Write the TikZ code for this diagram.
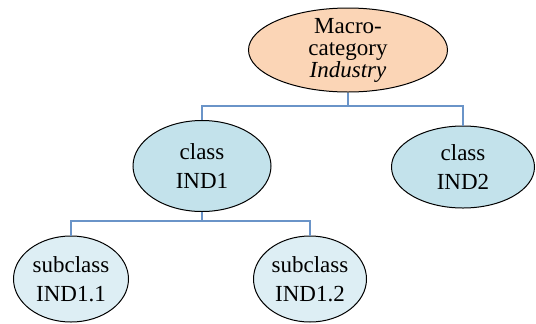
\documentclass[tikz,border=0pt]{standalone}
\usepackage{fontspec}
\setmainfont{Liberation Serif}
\usetikzlibrary{shapes.geometric}

\definecolor{peach}{HTML}{FBD5B6}
\definecolor{clsblue}{HTML}{C3E2EB}
\definecolor{subblue}{HTML}{DDEEF4}
\definecolor{linkblue}{HTML}{6A94C8}

\tikzset{
  oval/.style={ellipse,draw=black,line width=0.5pt,inner sep=0pt},
  txt/.style={align=center,inner sep=0pt,font=\fontsize{11.5}{14.5}\selectfont},
  link/.style={draw=linkblue,line width=0.6pt}
}

\begin{document}
\begin{tikzpicture}[x=0.5pt,y=-0.5pt]
                    \useasboundingbox (0,0) rectangle (536,323);

                    % top level
                    \node[oval,fill=peach,minimum width=99.5pt,minimum height=42pt,
                          label={[txt,font=\fontsize{11.5}{11}\selectfont]center:Macro-\\category\\\textit{Industry}}]
                          (top) at (348,50) {};

                    % classes
                    \node[oval,fill=clsblue,minimum width=69pt,minimum height=45.5pt,
                          label={[txt]center:class\\IND1}] (ind1) at (202,166) {};
                    \node[oval,fill=clsblue,minimum width=71.5pt,minimum height=41pt,
                          label={[txt]center:class\\IND2}] (ind2) at (463,167) {};

                    % subclasses
                    \node[oval,fill=subblue,minimum width=57.5pt,minimum height=43pt,
                          label={[txt]center:subclass\\IND1.1}] (ind11) at (71,279) {};
                    \node[oval,fill=subblue,minimum width=56.5pt,minimum height=43pt,
                          label={[txt]center:subclass\\IND1.2}] (ind12) at (310,279) {};

                    \coordinate (bar1) at (348,106);
                    \coordinate (bar2) at (202,221);

                    \draw[link] (top.south) -- (bar1);
                    \draw[link] (ind1.north) |- (bar1) -| (ind2.north);
                    \draw[link] (ind1.south) -- (bar2);
                    \draw[link] (ind11.north) |- (bar2) -| (ind12.north);
                \end{tikzpicture}
\end{document}
